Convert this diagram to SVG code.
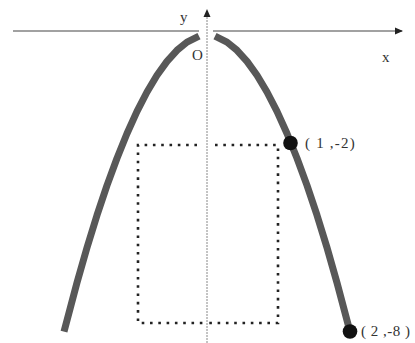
<svg xmlns="http://www.w3.org/2000/svg" width="415" height="343" viewBox="0 0 415 343">
<style>
.lbl{font-family:"Liberation Serif","Times New Roman",serif;font-size:15px;fill:#333}
.pt{letter-spacing:1.2px}
.axis{stroke:#444;stroke-width:1.2;fill:none}
.yaxis{stroke:#888;stroke-width:1;fill:none;stroke-dasharray:2 1}
.curve{stroke:#585858;stroke-width:7;fill:none;stroke-linejoin:round}
.rect{stroke:#222;stroke-width:2.6;fill:none;stroke-dasharray:2.6 5.7}
.dot{fill:#111}
</style>
<defs>
<marker id="arr" markerWidth="8" markerHeight="8" refX="7" refY="4" orient="auto" markerUnits="userSpaceOnUse">
<path d="M0,0.5 L8,4 L0,7.5 Z" fill="#222"/>
</marker>
</defs>
<rect width="415" height="343" fill="#fff"/>
<g id="connectors">
<line class="axis" x1="13" y1="31" x2="199" y2="31"/>
<line class="axis" x1="213" y1="31" x2="402" y2="31" marker-end="url(#arr)"/>
<line class="yaxis" x1="207" y1="343" x2="207" y2="10" marker-end="url(#arr)"/>
</g>
<g id="curve">
<path class="curve" d="M64,331.7 L77,282.7 L87,247.6 L97,215.2 L107,185.4 L117,158.2 L127,133.5 L137,111.4 L147,92 L157,75.3 L167,61.4 L177,50.3 L187,42.1 L199,36.2"/>
<path class="curve" d="M215,36.2 L227,42.1 L237,50.3 L247,61.4 L257,75.3 L267,92 L277,111.4 L287,133.5 L297,158.2 L307,185.4 L317,215.2 L327,247.6 L337,282.7 L350,331.7"/>
</g>
<g id="rectangle">
<path class="rect" d="M197,145 L138,145 L138,323 L207,323"/>
<path class="rect" d="M215,145 L278,145 L278,323 L207,323"/>
</g>
<g id="labels">
<text class="lbl" x="180" y="22" font-size="16">y</text>
<text class="lbl" x="192" y="60" font-size="12">O</text>
<text class="lbl" x="382" y="62" font-size="16">x</text>
</g>
<g id="point1">
<circle class="dot" cx="290.5" cy="143" r="7.3"/>
<text class="lbl pt" x="305" y="148">( 1 ,-2)</text>
</g>
<g id="point2">
<circle class="dot" cx="350" cy="331.5" r="7.3"/>
<text class="lbl" x="361" y="336" letter-spacing="0.5">( 2 ,-8 )</text>
</g>
</svg>
